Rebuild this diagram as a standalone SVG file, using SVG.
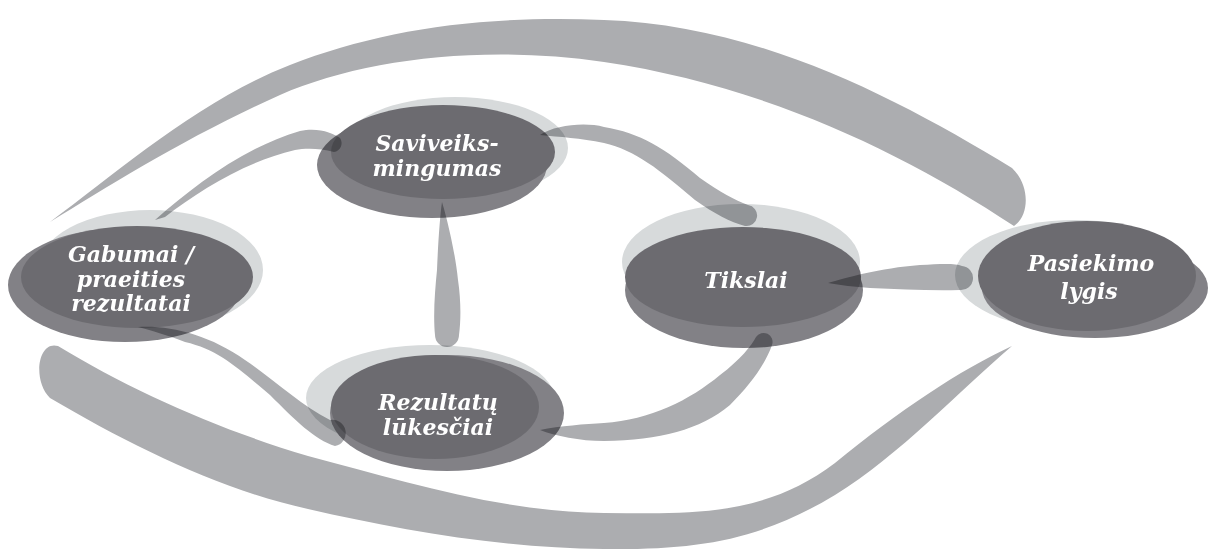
<svg xmlns="http://www.w3.org/2000/svg" width="1208" height="552" viewBox="0 0 1208 552">
<style>
.halo{fill:#d7dadb}
.b{fill:#828186}
.a{fill:#6c6b70}
.lbl{font-family:"DejaVu Serif",serif;font-weight:bold;font-style:italic;font-size:22px;fill:#ffffff;text-anchor:middle}
.con{fill:#acadb0;mix-blend-mode:multiply}
</style>
<rect width="1208" height="552" fill="#ffffff"/>
<g id="node-gabumai">
<ellipse class="halo" cx="150" cy="270" rx="113" ry="60"/>
<ellipse class="b" cx="125" cy="285" rx="117" ry="57"/>
<ellipse class="a" cx="137" cy="277" rx="116" ry="51"/>
<text class="lbl" x="131" y="262">Gabumai /</text>
<text class="lbl" x="131" y="287">praeities</text>
<text class="lbl" x="131" y="311">rezultatai</text>
</g>
<g id="node-saviveiksmingumas">
<ellipse class="halo" cx="455" cy="148" rx="113" ry="51"/>
<ellipse class="b" cx="432" cy="165" rx="115" ry="53"/>
<ellipse class="a" cx="443" cy="152" rx="112" ry="47"/>
<text class="lbl" x="437" y="151">Saviveiks-</text>
<text class="lbl" x="437" y="176">mingumas</text>
</g>
<g id="node-rezultatu">
<ellipse class="halo" cx="430" cy="398" rx="124" ry="53"/>
<ellipse class="b" cx="447" cy="413" rx="117" ry="58"/>
<ellipse class="a" cx="435" cy="407" rx="104" ry="52"/>
<text class="lbl" x="438" y="410">Rezultatų</text>
<text class="lbl" x="438" y="435">lūkesčiai</text>
</g>
<g id="node-tikslai">
<ellipse class="halo" cx="741" cy="262" rx="119" ry="58"/>
<ellipse class="b" cx="744" cy="290" rx="119" ry="58"/>
<ellipse class="a" cx="743" cy="277" rx="118" ry="50"/>
<text class="lbl" x="746" y="288">Tikslai</text>
</g>
<g id="node-pasiekimo">
<ellipse class="halo" cx="1075" cy="275" rx="120" ry="55"/>
<ellipse class="b" cx="1095" cy="288" rx="113" ry="50"/>
<ellipse class="a" cx="1087" cy="276" rx="109" ry="55"/>
<text class="lbl" x="1091" y="271">Pasiekimo</text>
<text class="lbl" x="1089" y="299">lygis</text>
</g>
<g id="connectors">
<path class="con" d="M50,222 C120,170 200,100 290,65 C380,30 480,15 604,20 C760,25 900,100 1012,168 C1030,185 1030,215 1014,226 C900,150 760,85 604,62 C480,44 360,60 280,95 C190,135 110,185 50,222 Z"/>
<path class="con" d="M1012,346 C960,370 900,410 835,463 C760,520 680,513 604,513 C500,512 400,480 308,456 C220,430 130,390 58,346 C38,340 32,380 50,398 C130,445 220,490 308,509 C400,530 500,548 604,549 C700,550 760,540 835,495 C900,455 960,390 1012,346 Z"/>
<path class="con" d="M155,220 C195,185 245,147 300,131 C318,127 333,133 340,138 A9,9 0 0 1 334,152 C320,148 305,148 295,150 C245,162 200,190 165,217 Z"/>
<path class="con" d="M540,135 C555,125 585,122 604,127 C640,133 665,148 700,178 C720,192 735,200 748,205 A10,10 0 0 1 745,226 C730,222 715,214 695,200 C660,170 635,150 604,143 C580,138 560,137 540,135 Z"/>
<path class="con" d="M442,202 C446,215 455,250 458,280 C461,300 461,320 459,335 A12,12 0 0 1 435,335 C433,315 435,290 437,270 C438,245 440,215 442,202 Z"/>
<path class="con" d="M138,327 C170,325 210,335 245,360 C275,380 300,405 330,420 A12,12 0 0 1 335,446 C315,440 295,420 270,395 C240,370 220,350 185,342 C170,336 150,330 138,327 Z"/>
<path class="con" d="M540,430 C560,426 585,424 604,423 C650,420 690,400 720,375 C740,360 752,345 756,337 A9,9 0 0 1 772,345 C765,365 750,385 730,405 C700,430 660,440 604,441 C580,441 555,436 540,430 Z"/>
<path class="con" d="M828,283 C845,278 880,268 920,265 C940,264 955,263 962,266 A12,12 0 0 1 960,290 C930,291 900,289 870,288 C855,287 840,285 828,283 Z"/>
</g>
</svg>
